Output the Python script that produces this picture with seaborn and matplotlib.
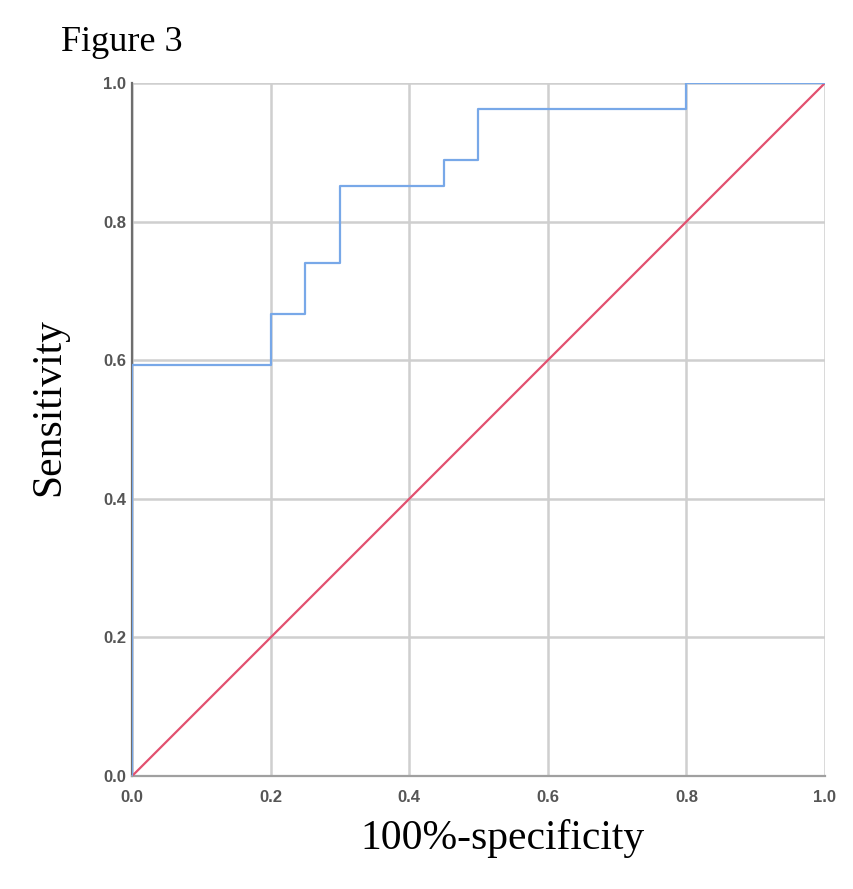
import matplotlib
matplotlib.use("Agg")
import matplotlib.pyplot as plt
import seaborn as sb
import pandas as pd

# ROC curve vertices (27 positives, 20 negatives)
fpr = [0.0, 0.0, 0.20, 0.20, 0.25, 0.25, 0.30, 0.30, 0.45, 0.45, 0.50, 0.50, 0.80, 0.80, 1.0]
tpr = [0.0, 16/27, 16/27, 18/27, 18/27, 20/27, 20/27, 23/27, 23/27, 24/27, 24/27, 26/27, 26/27, 1.0, 1.0]
ref_line = [0.0, 1.0]
ticks = [0.0, 0.2, 0.4, 0.6, 0.8, 1.0]

roc = pd.DataFrame({"fpr": fpr, "tpr": tpr})

sb.set_style("white")
plt.rcParams["font.family"] = ["Liberation Sans", "DejaVu Sans"]

fig = plt.figure(figsize=(8.54, 8.89), dpi=100)
ax = fig.add_axes([0.1546, 0.127, 0.8114, 0.7796])

# reference diagonal
sb.lineplot(x=ref_line, y=ref_line, ax=ax, color="#e2506f", linewidth=1.6, zorder=3)
# ROC step curve
sb.lineplot(data=roc, x="fpr", y="tpr", sort=False, estimator=None, ax=ax,
            color="#78a8e8", linewidth=1.6, zorder=4)

ax.set_xlim(0, 1)
ax.set_ylim(0, 1)
ax.set_xticks(ticks)
ax.set_yticks(ticks)
ax.set_xticklabels([f"{t:.1f}" for t in ticks])
ax.set_yticklabels([f"{t:.1f}" for t in ticks])
ax.grid(True, color="#cfcfcf", linewidth=1.8)
ax.set_axisbelow(True)

for side in ["top", "right"]:
    ax.spines[side].set_visible(False)
ax.spines["left"].set_color("#6e6e6e")
ax.spines["left"].set_linewidth(1.6)
ax.spines["bottom"].set_color("#a0a0a0")
ax.spines["bottom"].set_linewidth(1.6)

ax.tick_params(axis="both", labelsize=12, labelcolor="#555555", direction="in",
               length=4, color="#888888")
ax.tick_params(axis="x", pad=10)
ax.tick_params(axis="y", pad=4)
for lab in ax.get_xticklabels() + ax.get_yticklabels():
    lab.set_fontweight("bold")

ax.set_xlabel("100%-specificity", fontsize=30, family="Liberation Serif", color="black")
ax.xaxis.set_label_coords(0.534, -0.062)
ax.set_ylabel("Sensitivity", fontsize=30, family="Liberation Serif", color="black")
ax.yaxis.set_label_coords(-0.092, 0.532)

fig.text(0.072, 0.943, "Figure 3", fontsize=26, family="Liberation Serif", color="black")

plt.savefig("out.png", dpi=100)
